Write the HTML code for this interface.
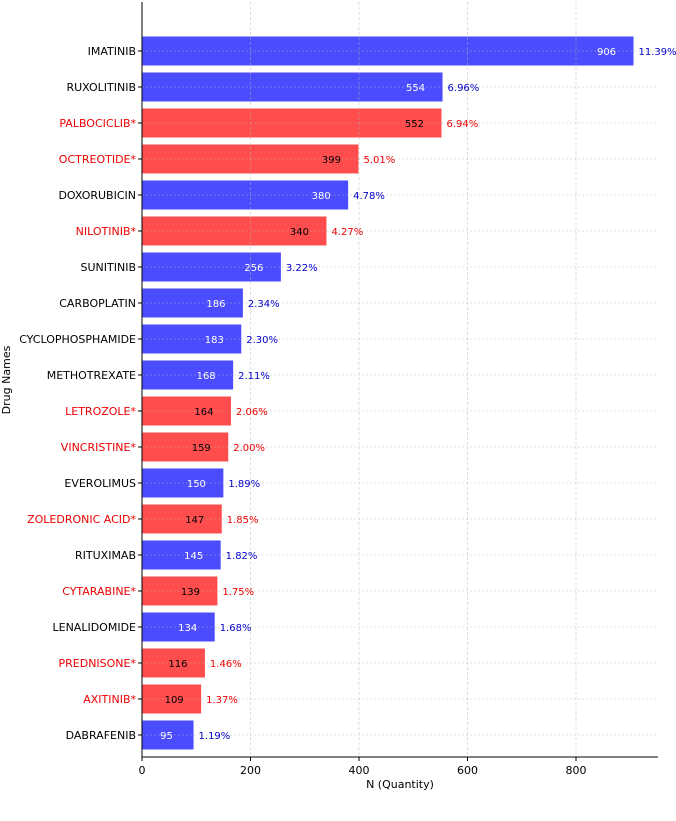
<!DOCTYPE html>
<html><head><meta charset="utf-8"><style>
body{margin:0;background:#fff;}
svg{font-family:"DejaVu Sans","Liberation Sans",sans-serif;}
</style></head><body>
<svg id="chart" width="676" height="816" xmlns="http://www.w3.org/2000/svg"></svg>
<script>
const drugs=["IMATINIB","RUXOLITINIB","PALBOCICLIB*","OCTREOTIDE*","DOXORUBICIN","NILOTINIB*","SUNITINIB","CARBOPLATIN","CYCLOPHOSPHAMIDE","METHOTREXATE","LETROZOLE*","VINCRISTINE*","EVEROLIMUS","ZOLEDRONIC ACID*","RITUXIMAB","CYTARABINE*","LENALIDOMIDE","PREDNISONE*","AXITINIB*","DABRAFENIB"];
const counts=[906,554,552,399,380,340,256,186,183,168,164,159,150,147,145,139,134,116,109,95];
const percents=["11.39%","6.96%","6.94%","5.01%","4.78%","4.27%","3.22%","2.34%","2.30%","2.11%","2.06%","2.00%","1.89%","1.85%","1.82%","1.75%","1.68%","1.46%","1.37%","1.19%"];
const xTicks=[0,200,400,600,800];
const NS="http://www.w3.org/2000/svg";
const svg=document.getElementById('chart');
const x0=142,pxPer=(576-142)/800,top0=51,step=36,barH=29,plotTop=2,plotBottom=757,plotRight=658;
const xs=v=>x0+v*pxPer, ys=i=>top0+i*step;
function mk(t,a,txt){const e=document.createElementNS(NS,t);for(const k in a)e.setAttribute(k,a[k]);if(txt!==undefined)e.textContent=txt;svg.appendChild(e);return e;}
drugs.forEach((d,i)=>{
 const red=d.endsWith('*');
 const y=ys(i);
 const b=mk('rect',{x:x0,y:y-barH/2,width:xs(counts[i])-x0,height:barH,fill:red?'#ff4c4c':'#4c4cff'});
 
 
});
xTicks.forEach(t=>{
 const g=mk('line',{x1:xs(t),x2:xs(t),y1:plotTop,y2:plotBottom,stroke:'rgba(180,180,180,0.55)','stroke-dasharray':'3,2','stroke-width':0.8});
 
 
 const tk=mk('line',{x1:xs(t),x2:xs(t),y1:plotBottom,y2:plotBottom+4,stroke:'#000'});
 
 
 const l=mk('text',{x:xs(t),y:plotBottom+17,'text-anchor':'middle','font-size':11,fill:'#000'},t);
 
 
});
drugs.forEach((d,i)=>{
 const red=d.endsWith('*');
 const y=ys(i);
 const hg=mk('line',{x1:x0,x2:plotRight,y1:y,y2:y,stroke:'rgba(180,180,180,0.55)','stroke-dasharray':'2,2','stroke-width':0.8});
 
 
 const tl=mk('text',{x:x0-6,y:y+4,'text-anchor':'end','font-size':11,fill:red?'#e00':'#000'},d);
 
 
 const tk=mk('line',{x1:x0-4,x2:x0,y1:y,y2:y,stroke:'#000'});
 
 
 const v=mk('text',{x:xs(counts[i])-27,y:y+4,'text-anchor':'middle','font-size':10,fill:red?'#000':'#fff'},counts[i]);
 
 
 const p=mk('text',{x:xs(counts[i])+5,y:y+4,'font-size':10,fill:red?'#e00':'#00c'},percents[i]);
 
 
});
const ya=mk('line',{x1:x0,x2:x0,y1:plotTop,y2:plotBottom,stroke:'#000','stroke-width':1});


const xa=mk('line',{x1:x0,x2:plotRight,y1:plotBottom,y2:plotBottom,stroke:'#000','stroke-width':1});


const xt=mk('text',{x:400,y:plotBottom+31,'text-anchor':'middle','font-size':11},'N (Quantity)');


const yt=mk('text',{x:10,y:380,'text-anchor':'middle','font-size':11,transform:'rotate(-90 10 380)'},'Drug Names');


</script>
</body></html>
